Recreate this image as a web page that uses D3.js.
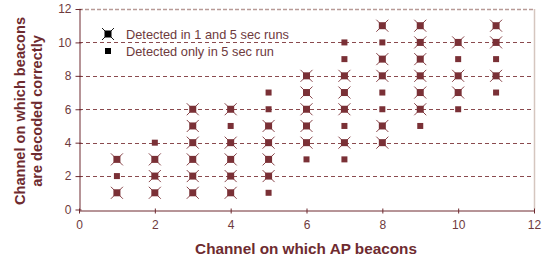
<!DOCTYPE html>
<html>
<head>
<meta charset="utf-8">
<script src="https://cdn.jsdelivr.net/npm/d3@7"></script>
<style>
  body { margin: 0; background: #fff; }
  svg { display: block; font-family: "Liberation Sans", Arial, sans-serif; }
</style>
</head>
<body>
<div id="chart"></div>
<script>
// AP channel (x) -> decoded channels (y)
const apChannels = [1, 2, 3, 4, 5, 6, 7, 8, 9, 10, 11];
const bothRuns = [
    [1, 3], [1, 2, 3], [1, 2, 3, 4, 5, 6], [1, 2, 3, 4, 6], [2, 3, 4, 5],
    [4, 5, 6, 7, 8], [4, 6, 7, 8], [4, 5, 8, 9, 11], [6, 7, 8, 9, 10, 11],
    [7, 8, 10], [8, 10, 11]
];
const fiveSecOnly = [
    [2], [4], [], [5], [1, 6, 7],
    [3], [3, 5, 9, 10], [6, 7, 10], [5],
    [6, 9], [7, 9]
];
const ticks = [0, 2, 4, 6, 8, 10, 12];
const legendLabels = ['Detected in 1 and 5 sec runs', 'Detected only in 5 sec run'];

const width = 549, height = 263;
const margin = { top: 9, right: 15, bottom: 53, left: 79 };
const dark = '#6e2b30';
const markColor = '#7a3036';

const svg = d3.select('#chart').append('svg')
    .attr('width', width)
    .attr('height', height);

const xScale = d3.scaleLinear().domain([0, 12]).range([margin.left, width - margin.right]);
const yScale = d3.scaleLinear().domain([0, 12]).range([height - margin.bottom - 0.5, margin.top]);

// gridlines
svg.append('g')
    .selectAll('line')
    .data(ticks.filter(t => t > 0 && t < 12))
    .join('line')
    .attr('x1', xScale(0)).attr('x2', xScale(12))
    .attr('y1', d => Math.round(yScale(d)) + 0.5)
    .attr('y2', d => Math.round(yScale(d)) + 0.5)
    .attr('stroke', '#8a4a4e')
    .attr('stroke-dasharray', '4,3');

// top + right frame
svg.append('line')
    .attr('x1', xScale(0)).attr('x2', xScale(12))
    .attr('y1', Math.round(yScale(12)) + 0.5).attr('y2', Math.round(yScale(12)) + 0.5)
    .attr('stroke', '#b89a96').attr('stroke-width', 1.5)
    .attr('stroke-dasharray', '4,2');
svg.append('line')
    .attr('x1', Math.round(xScale(12)) + 0.5).attr('x2', Math.round(xScale(12)) + 0.5)
    .attr('y1', yScale(12)).attr('y2', yScale(0))
    .attr('stroke', '#d5c6bf').attr('stroke-width', 1.5);

// axes
const xAxis = svg.append('g')
    .attr('transform', `translate(0, ${Math.round(yScale(0)) + 0.5})`)
    .call(d3.axisBottom(xScale).tickValues(ticks).tickSize(4).tickSizeOuter(0));
const yAxis = svg.append('g')
    .attr('transform', `translate(${Math.round(xScale(0)) + 0.5}, 0)`)
    .call(d3.axisLeft(yScale).tickValues(ticks).tickSize(4).tickSizeOuter(0));

[xAxis, yAxis].forEach(a => {
    a.select('.domain').attr('stroke', dark);
    a.selectAll('.tick line').attr('stroke', dark);
    a.selectAll('.tick text')
        .attr('fill', '#6e3a3d')
        .style('font-size', '12px');
});
xAxis.selectAll('.tick line').attr('y1', -2).attr('y2', 3);
xAxis.selectAll('.tick text').attr('y', 10);
yAxis.selectAll('.tick line').attr('x1', -4).attr('x2', 2);
yAxis.selectAll('.tick text').attr('x', -8);

// markers
function drawCross(g, color, sq) {
    g.append('path')
        .attr('d', 'M-6,-6L6,6M-6,6L6,-6')
        .attr('stroke', color)
        .attr('stroke-width', 0.9);
    g.append('rect')
        .attr('x', -sq / 2).attr('y', -sq / 2)
        .attr('width', sq).attr('height', sq)
        .attr('fill', color);
}
function drawSquare(g, color) {
    g.append('rect')
        .attr('x', -3).attr('y', -3)
        .attr('width', 6).attr('height', 6)
        .attr('fill', color);
}

const bothPts = apChannels.flatMap((c, i) => bothRuns[i].map(v => ({ x: c, y: v })));
const onlyPts = apChannels.flatMap((c, i) => fiveSecOnly[i].map(v => ({ x: c, y: v })));

svg.append('g').selectAll('g')
    .data(bothPts)
    .join('g')
    .attr('transform', d => `translate(${xScale(d.x)}, ${yScale(d.y)})`)
    .each(function () { drawCross(d3.select(this), markColor, 7); });

svg.append('g').selectAll('g')
    .data(onlyPts)
    .join('g')
    .attr('transform', d => `translate(${xScale(d.x)}, ${yScale(d.y)})`)
    .each(function () { drawSquare(d3.select(this), markColor); });

// legend
const legend = svg.append('g').attr('transform', 'translate(108, 34)');
drawCross(legend.append('g'), '#000', 7);
drawSquare(legend.append('g').attr('transform', 'translate(0, 17)'), '#000');
legend.selectAll('text')
    .data(legendLabels)
    .join('text')
    .attr('x', 18)
    .attr('y', (d, i) => i * 17 + 4.5)
    .attr('fill', '#6e3a3d')
    .style('font-size', '12.8px')
    .text(d => d);

// axis titles
svg.append('text')
    .attr('x', 306).attr('y', 254)
    .attr('text-anchor', 'middle')
    .attr('fill', dark)
    .style('font-size', '15.3px')
    .style('font-weight', 'bold')
    .text('Channel on which AP beacons');

const yTitle = svg.append('text')
    .attr('transform', 'translate(0, 111) rotate(-90)')
    .attr('text-anchor', 'middle')
    .attr('fill', dark)
    .style('font-size', '14.6px')
    .style('font-weight', 'bold');
yTitle.append('tspan').attr('x', 0).attr('y', 25).text('Channel on which beacons');
yTitle.append('tspan').attr('x', 0).attr('y', 42).text('are decoded correctly');
</script>
</body>
</html>
